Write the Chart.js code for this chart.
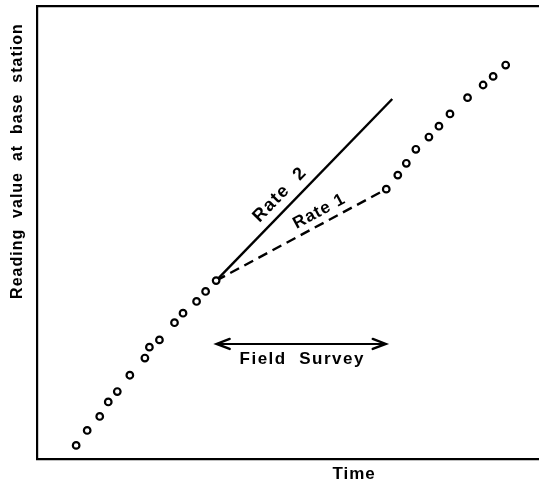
<!DOCTYPE html>
<html lang="en">
<head>
<meta charset="UTF-8">
<title>Reading value at base station vs time</title>
<script src="https://cdn.jsdelivr.net/npm/chart.js@4.4.0/dist/chart.umd.min.js"></script>
<style>
    html, body { margin: 0; padding: 0; background: #fff; }
    .graph-container { width: 545px; height: 487px; }
</style>
</head>
<body>
<div class="graph-container">
    <canvas id="myChart"></canvas>
</div>
<script>
    // base station readings before the field survey (time, reading)
    const beforeTime = [7.8, 10.0, 12.5, 14.2, 16.0, 18.5, 21.5, 22.4, 24.4, 27.4, 29.1, 31.8, 33.6, 35.7];
    const beforeReading = [3.0, 6.3, 9.4, 12.6, 14.9, 18.5, 22.3, 24.7, 26.3, 30.1, 32.2, 34.8, 37.0, 39.4];
    // readings after the field survey
    const afterTime = [69.6, 71.9, 73.6, 75.5, 78.1, 80.1, 82.3, 85.8, 88.9, 90.9, 93.4];
    const afterReading = [59.6, 62.7, 65.3, 68.4, 71.1, 73.5, 76.2, 79.8, 82.6, 84.5, 87.0];
    // drift lines
    const rate1Time = [35.7, 69.6];
    const rate1Reading = [39.4, 59.6];
    const rate2Time = [35.7, 70.8];
    const rate2Reading = [39.4, 79.5];
    // field survey interval
    const surveyTime = [35.8, 69.5];
    const surveyReading = [25.4, 25.4];

    const xTitle = 'Time';
    const yTitle = 'Reading  value  at  base  station';
    const surveyLabel = 'Field  Survey';
    const rate1Label = 'Rate 1';
    const rate2Label = 'Rate  2';

    function toPoints(xs, ys) {
        return xs.map((x, i) => ({ x: x, y: ys[i] }));
    }

    const FONT = '"Liberation Sans", Arial, sans-serif';

    // arrowheads and hand lettering
    const annotations = {
        id: 'annotations',
        afterDraw(chart) {
            const ctx = chart.ctx;
            const xs = chart.scales.x, ys = chart.scales.y;
            const area = chart.chartArea;

            ctx.save();
            ctx.strokeStyle = '#000';
            ctx.fillStyle = '#000';
            ctx.lineWidth = 2.4;
            ctx.lineCap = 'round';

            // arrowheads on the survey span
            const ay = ys.getPixelForValue(surveyReading[0]);
            const ax0 = xs.getPixelForValue(surveyTime[0]);
            const ax1 = xs.getPixelForValue(surveyTime[1]);
            [[ax0, 1], [ax1, -1]].forEach(([tip, dir]) => {
                ctx.beginPath();
                ctx.moveTo(tip + dir * 13, ay - 5);
                ctx.lineTo(tip, ay);
                ctx.lineTo(tip + dir * 13, ay + 5);
                ctx.stroke();
            });

            ctx.letterSpacing = '1.5px';
            ctx.font = 'bold 17px ' + FONT;
            ctx.textAlign = 'center';
            ctx.textBaseline = 'middle';
            ctx.fillText(surveyLabel, (ax0 + ax1) / 2 + 1, ay + 15);

            // labels along the rate lines
            function lineLabel(txs, trs, t, offset, text) {
                const x0 = xs.getPixelForValue(txs[0]), y0 = ys.getPixelForValue(trs[0]);
                const x1 = xs.getPixelForValue(txs[1]), y1 = ys.getPixelForValue(trs[1]);
                const ang = Math.atan2(y1 - y0, x1 - x0);
                ctx.save();
                ctx.translate(x0 + (x1 - x0) * t, y0 + (y1 - y0) * t);
                ctx.rotate(ang);
                ctx.fillText(text, 0, -offset);
                ctx.restore();
            }
            ctx.font = 'bold 18px ' + FONT;
            ctx.letterSpacing = '1.5px';
            lineLabel(rate2Time, rate2Reading, 0.42, 14, rate2Label);
            ctx.font = 'bold 17px ' + FONT;
            ctx.letterSpacing = '1px';
            lineLabel(rate1Time, rate1Reading, 0.64, 12, rate1Label);

            // axis titles
            ctx.font = 'bold 17px ' + FONT;
            ctx.letterSpacing = '1px';
            ctx.fillText(xTitle, xs.getPixelForValue(63.2), area.bottom + 15);
            ctx.font = 'bold 16px ' + FONT;
            ctx.save();
            ctx.translate(18, ys.getPixelForValue(65.8));
            ctx.rotate(-Math.PI / 2);
            ctx.fillText(yTitle, 0, 0);
            ctx.restore();

            ctx.restore();
        }
    };

    const axisBase = {
        type: 'linear',
        min: 0,
        max: 100,
        ticks: { display: false },
        grid: { color: 'transparent', drawTicks: false },
        border: { display: true, color: '#000', width: 2.2 }
    };

    const ctx = document.getElementById('myChart').getContext('2d');
    const chart = new Chart(ctx, {
        type: 'scatter',
        data: {
            datasets: [
                {
                    label: 'Before survey',
                    data: toPoints(beforeTime, beforeReading),
                    pointRadius: 3.3,
                    pointBorderWidth: 2.2,
                    pointBorderColor: '#000',
                    pointBackgroundColor: '#fff'
                },
                {
                    label: 'After survey',
                    data: toPoints(afterTime, afterReading),
                    pointRadius: 3.3,
                    pointBorderWidth: 2.2,
                    pointBorderColor: '#000',
                    pointBackgroundColor: '#fff'
                },
                {
                    label: rate2Label,
                    data: toPoints(rate2Time, rate2Reading),
                    showLine: true,
                    borderColor: '#000',
                    borderWidth: 2.4,
                    pointRadius: 0
                },
                {
                    label: rate1Label,
                    data: toPoints(rate1Time, rate1Reading),
                    showLine: true,
                    borderColor: '#000',
                    borderWidth: 2.4,
                    borderDash: [10, 6],
                    pointRadius: 0
                },
                {
                    label: 'Field Survey',
                    data: toPoints(surveyTime, surveyReading),
                    showLine: true,
                    borderColor: '#000',
                    borderWidth: 2.2,
                    pointRadius: 0
                }
            ]
        },
        options: {
            responsive: true,
            maintainAspectRatio: false,
            animation: false,
            layout: { padding: { left: 37, top: 6, right: 0, bottom: 28 } },
            plugins: {
                legend: { display: false },
                tooltip: { enabled: false }
            },
            scales: {
                x: Object.assign({}, axisBase, { position: 'bottom' }),
                xTop: Object.assign({}, axisBase, { position: 'top' }),
                y: Object.assign({}, axisBase, { position: 'left' })
            }
        },
        plugins: [annotations]
    });
</script>
</body>
</html>
